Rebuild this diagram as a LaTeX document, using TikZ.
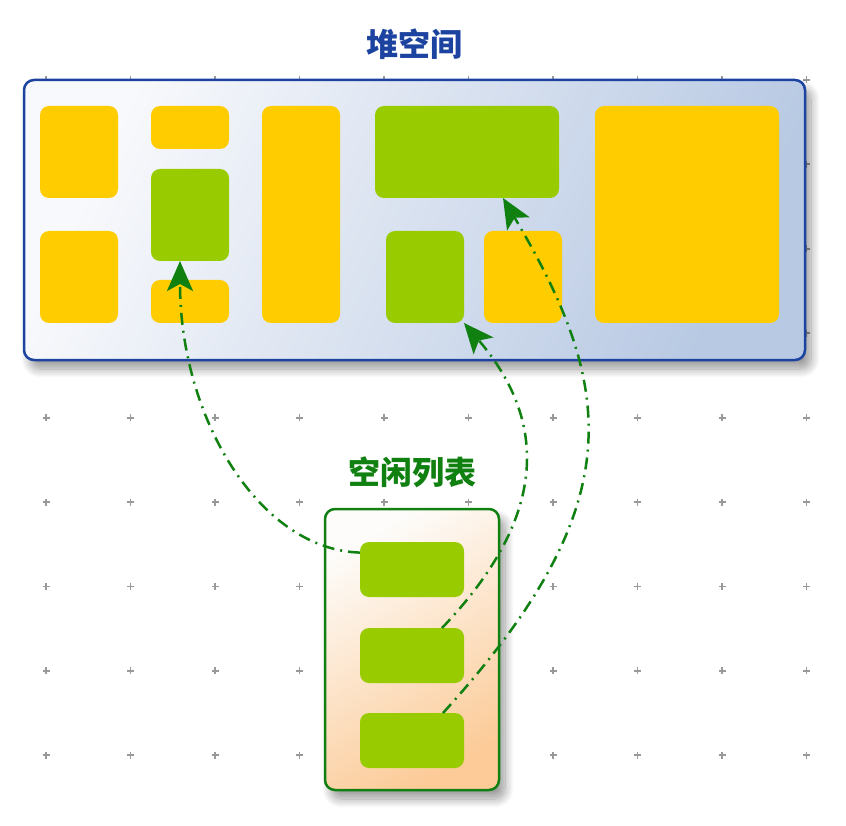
\documentclass[tikz,border=0pt]{standalone}
\usepackage{fontspec}
\newfontfamily\cjk{Noto Sans CJK SC}
\usetikzlibrary{arrows.meta,shadows,shadows.blur}

\definecolor{heapblue}{HTML}{1C43A0}
\definecolor{heapL}{HTML}{F8F9FC}
\definecolor{heapR}{HTML}{B8C9E3}
\definecolor{listgreen}{HTML}{108010}
\definecolor{listL}{HTML}{FDFCFA}
\definecolor{listR}{HTML}{FCCB98}
\definecolor{usedc}{HTML}{FFCC00}
\definecolor{freec}{HTML}{99CC00}
\definecolor{dotc}{HTML}{999999}

\begin{document}
\begin{tikzpicture}[x=1pt, y=-1pt]
\tikzset{ inner sep=0pt, outer sep=0pt,
  blk/.style={rounded corners=9pt},
  used/.style={blk, fill=usedc},
  free/.style={blk, fill=freec},
  boxshadow/.style={blur shadow={shadow xshift=6pt, shadow yshift=-9pt,
                    shadow blur radius=9pt, shadow blur steps=12, shadow opacity=40}},
  link/.style={listgreen, line width=2.5pt, dash pattern=on 12pt off 6pt on 2pt off 6pt,
               -{Stealth[length=30pt, width=26pt, inset=7pt]}},
}
\useasboundingbox (0,0) rectangle (846,826);

% grid of dots
\foreach \i in {0,...,9}
  \foreach \j in {0,...,8}
    \draw [dotc, line width=1.8pt] (46+84.5*\i-3.5, 80+84.4*\j) -- ++(7,0)
                                   (46+84.5*\i, 80+84.4*\j-3.5) -- ++(0,7);

% heap
\node [draw=heapblue, line width=2.5pt, rounded corners=10pt,
       top color=heapL, bottom color=heapR, shading angle=65, boxshadow,
       minimum width=781pt, minimum height=280pt] (heap) at (414.5,220) {};
\node [heapblue, font=\cjk\bfseries\fontsize{32}{34}\selectfont] (heapT) at (414,44) {堆空间};

\node [used, minimum width=78pt, minimum height=92pt]  (y1) at (79,152) {};
\node [used, minimum width=78pt, minimum height=92pt]  (y2) at (79,277) {};
\node [used, minimum width=78pt, minimum height=43pt]  (y3) at (190,127.5) {};
\node [free, minimum width=78pt, minimum height=92pt]  (g1) at (190,215) {};
\node [used, minimum width=78pt, minimum height=43pt]  (y4) at (190,301.5) {};
\node [used, minimum width=78pt, minimum height=217pt] (y5) at (301,214.5) {};
\node [free, minimum width=184pt, minimum height=92pt] (g2) at (467,152) {};
\node [free, minimum width=78pt, minimum height=92pt]  (g3) at (425,277) {};
\node [used, minimum width=78pt, minimum height=92pt]  (y6) at (523,277) {};
\node [used, minimum width=184pt, minimum height=217pt] (y7) at (687,214.5) {};

% free list
\node [draw=listgreen, line width=2.5pt, rounded corners=10pt,
       top color=listL, bottom color=listR, shading angle=30, boxshadow,
       minimum width=174pt, minimum height=281pt] (list) at (412,649.5) {};
\node [listgreen, font=\cjk\bfseries\fontsize{32}{34}\selectfont] (listT) at (412,472) {空闲列表};

\node [free, minimum width=104pt, minimum height=55pt] (f1) at (412,569.5) {};
\node [free, minimum width=104pt, minimum height=55pt] (f2) at (412,655.5) {};
\node [free, minimum width=104pt, minimum height=55pt] (f3) at (412,740.5) {};

\draw [link] (f1.162) .. controls +(-100,-3) and +(0,158) .. ([xshift=-10pt]g1.south);
\draw [link] ([xshift=30pt]f2.north) .. controls +(103,-108) and +(87,102) .. (g3.south east);
\draw [link] ([xshift=31pt]f3.north) .. controls +(189,-208) and +(113,191) .. ([xshift=36pt]g2.south);

\end{tikzpicture}
\end{document}
